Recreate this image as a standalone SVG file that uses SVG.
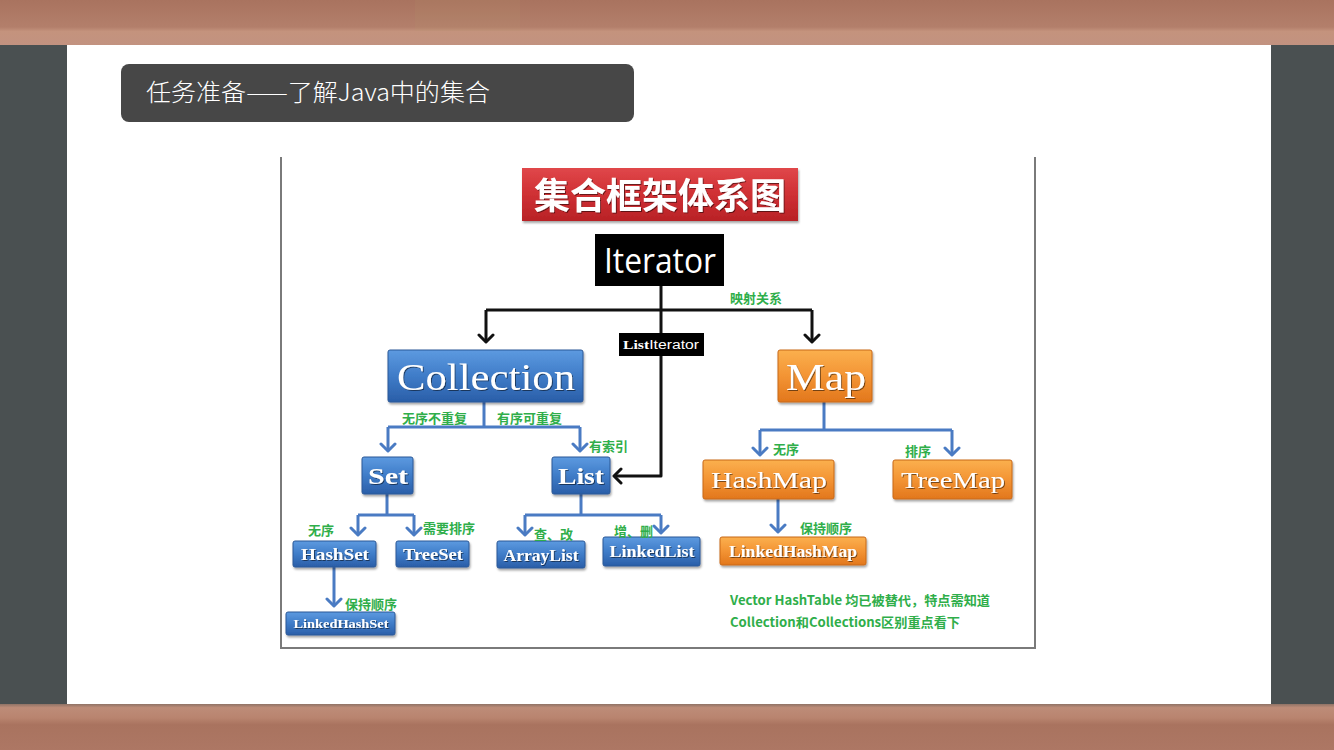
<svg xmlns="http://www.w3.org/2000/svg" width="1334" height="750" viewBox="0 0 1334 750">
  <defs>
    <linearGradient id="wood" x1="0" y1="0" x2="0" y2="1">
      <stop offset="0" stop-color="#a9735f"/>
      <stop offset="0.6" stop-color="#b37f6b"/>
      <stop offset="0.7" stop-color="#c4937d"/>
      <stop offset="1" stop-color="#c29280"/>
    </linearGradient>
    <linearGradient id="woodB" x1="0" y1="0" x2="0" y2="1">
      <stop offset="0" stop-color="#8f7366"/>
      <stop offset="0.08" stop-color="#bd8c78"/>
      <stop offset="0.3" stop-color="#b9846f"/>
      <stop offset="0.45" stop-color="#a9735f"/>
      <stop offset="1" stop-color="#ad7764"/>
    </linearGradient>
    <linearGradient id="blue" x1="0" y1="0" x2="0" y2="1">
      <stop offset="0" stop-color="#5d9ae0"/>
      <stop offset="0.5" stop-color="#3f7cc8"/>
      <stop offset="1" stop-color="#2a5ea8"/>
    </linearGradient>
    <linearGradient id="orange" x1="0" y1="0" x2="0" y2="1">
      <stop offset="0" stop-color="#fbb04e"/>
      <stop offset="0.5" stop-color="#f39434"/>
      <stop offset="1" stop-color="#e2771c"/>
    </linearGradient>
    <linearGradient id="red" x1="0" y1="0" x2="0" y2="1">
      <stop offset="0" stop-color="#e0474a"/>
      <stop offset="0.5" stop-color="#cf3034"/>
      <stop offset="1" stop-color="#b82226"/>
    </linearGradient>
    <filter id="shadow" x="-10%" y="-10%" width="130%" height="140%">
      <feDropShadow dx="1" dy="2" stdDeviation="1.2" flood-color="#000" flood-opacity="0.35"/>
    </filter>
    <filter id="tshadow" x="-5%" y="-10%" width="115%" height="130%">
      <feDropShadow dx="1" dy="1" stdDeviation="0.6" flood-color="#000" flood-opacity="0.5"/>
    </filter>
    <marker id="blueHead" markerUnits="userSpaceOnUse" markerWidth="18" markerHeight="18" refX="9" refY="9" orient="auto">
      <path d="M2,2 L9,9 L2,16" fill="none" stroke="#4a7bc3" stroke-width="3" stroke-linecap="round" stroke-linejoin="round"/>
    </marker>
    <marker id="blackHead" markerUnits="userSpaceOnUse" markerWidth="18" markerHeight="18" refX="9" refY="9" orient="auto">
      <path d="M2,2 L9,9 L2,16" fill="none" stroke="#111" stroke-width="3" stroke-linecap="round" stroke-linejoin="round"/>
    </marker>
    <style>
      .bnode { fill: url(#blue); stroke: #2b5897; stroke-width: 1; filter: url(#shadow); }
      .onode { fill: url(#orange); stroke: #c86818; stroke-width: 1; filter: url(#shadow); }
      .lbl { font-family: "Liberation Serif", "DejaVu Serif", serif; font-weight: bold; fill: #fff; text-anchor: middle; filter: url(#tshadow); }
      .lbl.reg { font-weight: normal; }
      .note { font-family: "Noto Sans CJK SC", "Liberation Sans", sans-serif; font-weight: bold; fill: #2fae4a; font-size: 13px; }
      .blue { fill: none; stroke: #4a7bc3; stroke-width: 3; stroke-linejoin: round; }
      .black { fill: none; stroke: #111; stroke-width: 3; stroke-linejoin: round; }
    </style>
  </defs>

  <!-- chalkboard frame -->
  <rect x="0" y="0" width="1334" height="750" fill="#4a5051"/>
  <rect x="0" y="0" width="1334" height="45" fill="url(#wood)"/>
  <rect x="415" y="0" width="105" height="31" fill="#b9a06e" opacity="0.12"/>
  <rect x="0" y="704" width="1334" height="46" fill="url(#woodB)"/>
  <rect x="67" y="45" width="1204" height="659" fill="#ffffff"/>

  <!-- slide heading -->
  <g id="heading">
    <rect x="121" y="64" width="513" height="58" rx="8" fill="#474747"/>
    <text x="146" y="101" font-family="'Noto Sans CJK SC', 'Noto Sans', sans-serif" font-weight="300" font-size="24" fill="#ffffff" textLength="344" lengthAdjust="spacingAndGlyphs">任务准备——了解Java中的集合</text>
  </g>

  <!-- picture frame -->
  <path d="M281,157 V648 H1035 V157" fill="none" stroke="#7a7a7a" stroke-width="2"/>

  <!-- connectors -->
  <g id="connectors">
    <path class="black" d="M661,286 V310"/>
    <path class="black" d="M486,310 H812"/>
    <path class="black" d="M486,310 V342" marker-end="url(#blackHead)"/>
    <path class="black" d="M812,310 V342" marker-end="url(#blackHead)"/>
    <path class="black" d="M661,310 V333"/>
    <path class="black" d="M661,356 V476 H614" marker-end="url(#blackHead)"/>

    <path class="blue" d="M484,402 V427"/>
    <path class="blue" d="M388,427 H580"/>
    <path class="blue" d="M388,427 V451" marker-end="url(#blueHead)"/>
    <path class="blue" d="M580,427 V451" marker-end="url(#blueHead)"/>

    <path class="blue" d="M387,494 V515"/>
    <path class="blue" d="M358,515 H414"/>
    <path class="blue" d="M358,515 V535" marker-end="url(#blueHead)"/>
    <path class="blue" d="M414,515 V535" marker-end="url(#blueHead)"/>
    <path class="blue" d="M334,567 V606" marker-end="url(#blueHead)"/>

    <path class="blue" d="M581,494 V515"/>
    <path class="blue" d="M525,515 H661"/>
    <path class="blue" d="M525,515 V535" marker-end="url(#blueHead)"/>
    <path class="blue" d="M661,515 V533" marker-end="url(#blueHead)"/>

    <path class="blue" d="M824,402 V430"/>
    <path class="blue" d="M760,430 H952"/>
    <path class="blue" d="M760,430 V455" marker-end="url(#blueHead)"/>
    <path class="blue" d="M952,430 V455" marker-end="url(#blueHead)"/>
    <path class="blue" d="M778,499 V532" marker-end="url(#blueHead)"/>
  </g>

  <g id="title-banner">
    <rect x="522" y="168" width="276" height="53" fill="url(#red)" filter="url(#shadow)"/>
    <text x="660" y="209" text-anchor="middle" font-family="'Noto Sans CJK SC', sans-serif" font-weight="bold" font-size="36" fill="#ffffff" filter="url(#tshadow)">集合框架体系图</text>
  </g>

  <g id="iterator">
    <rect x="595" y="234" width="129" height="52" fill="#000000"/>
    <text x="660" y="273" text-anchor="middle" font-family="'Open Sans', 'Liberation Sans', sans-serif" font-size="34" fill="#ffffff" textLength="112" lengthAdjust="spacingAndGlyphs">Iterator</text>
  </g>

  <g id="listiterator">
    <rect x="619" y="333" width="85" height="23" fill="#000000"/>
    <text x="661" y="349" text-anchor="middle" font-size="12" fill="#ffffff" textLength="76" lengthAdjust="spacingAndGlyphs"><tspan font-family="'Liberation Serif', serif" font-weight="bold">List</tspan><tspan font-family="'Liberation Sans', sans-serif">Iterator</tspan></text>
  </g>

  <g id="collection">
    <rect class="bnode" x="388" y="350" width="195" height="52" rx="2"/>
    <text class="lbl reg" x="486" y="390" font-size="38" textLength="178" lengthAdjust="spacingAndGlyphs">Collection</text>
  </g>

  <g id="map">
    <rect class="onode" x="778" y="350" width="94" height="52" rx="2"/>
    <text class="lbl reg" x="826" y="390" font-size="38" textLength="80" lengthAdjust="spacingAndGlyphs">Map</text>
  </g>

  <g id="set">
    <rect class="bnode" x="362" y="457" width="51" height="37" rx="2"/>
    <text class="lbl" x="388" y="484" font-size="24" textLength="40" lengthAdjust="spacingAndGlyphs">Set</text>
  </g>

  <g id="list">
    <rect class="bnode" x="552" y="457" width="58" height="37" rx="2"/>
    <text class="lbl" x="581" y="484" font-size="24" textLength="46" lengthAdjust="spacingAndGlyphs">List</text>
  </g>

  <g id="hashset">
    <rect class="bnode" x="293" y="541" width="83" height="26" rx="2"/>
    <text class="lbl" x="335" y="560" font-size="16" textLength="68" lengthAdjust="spacingAndGlyphs">HashSet</text>
  </g>

  <g id="treeset">
    <rect class="bnode" x="396" y="541" width="73" height="26" rx="2"/>
    <text class="lbl" x="433" y="560" font-size="16" textLength="60" lengthAdjust="spacingAndGlyphs">TreeSet</text>
  </g>

  <g id="linkedhashset">
    <rect class="bnode" x="286" y="612" width="109" height="23" rx="2"/>
    <text class="lbl" x="341" y="628" font-size="12" textLength="95" lengthAdjust="spacingAndGlyphs">LinkedHashSet</text>
  </g>

  <g id="arraylist">
    <rect class="bnode" x="497" y="541" width="88" height="27" rx="2"/>
    <text class="lbl" x="541" y="561" font-size="16" textLength="75" lengthAdjust="spacingAndGlyphs">ArrayList</text>
  </g>

  <g id="linkedlist">
    <rect class="bnode" x="603" y="537" width="97" height="29" rx="2"/>
    <text class="lbl" x="652" y="557" font-size="16" textLength="85" lengthAdjust="spacingAndGlyphs">LinkedList</text>
  </g>

  <g id="hashmap">
    <rect class="onode" x="703" y="460" width="131" height="39" rx="2"/>
    <text class="lbl reg" x="769" y="488" font-size="24" textLength="116" lengthAdjust="spacingAndGlyphs">HashMap</text>
  </g>

  <g id="treemap">
    <rect class="onode" x="893" y="460" width="119" height="39" rx="2"/>
    <text class="lbl reg" x="953" y="488" font-size="24" textLength="104" lengthAdjust="spacingAndGlyphs">TreeMap</text>
  </g>

  <g id="linkedhashmap">
    <rect class="onode" x="720" y="537" width="146" height="28" rx="2"/>
    <text class="lbl" x="793" y="557" font-size="16" textLength="128" lengthAdjust="spacingAndGlyphs">LinkedHashMap</text>
  </g>

  <!-- edge notes -->
  <g id="notes">
    <text class="note" x="730" y="303" font-size="15">映射关系</text>
    <text class="note" x="402" y="423">无序不重复</text>
    <text class="note" x="497" y="423">有序可重复</text>
    <text class="note" x="589" y="451" font-size="14">有索引</text>
    <text class="note" x="308" y="535" font-size="12">无序</text>
    <text class="note" x="423" y="533" font-size="12.5">需要排序</text>
    <text class="note" x="345" y="609" font-size="15">保持顺序</text>
    <text class="note" x="534" y="539" font-size="12.5">查、改</text>
    <text class="note" x="614" y="536" font-size="12.5">增、删</text>
    <text class="note" x="773" y="454">无序</text>
    <text class="note" x="905" y="456">排序</text>
    <text class="note" x="800" y="533">保持顺序</text>
    <text class="note" x="730" y="605" textLength="260" lengthAdjust="spacingAndGlyphs">Vector HashTable 均已被替代，特点需知道</text>
    <text class="note" x="730" y="627" textLength="230" lengthAdjust="spacingAndGlyphs">Collection和Collections区别重点看下</text>
  </g>
</svg>
